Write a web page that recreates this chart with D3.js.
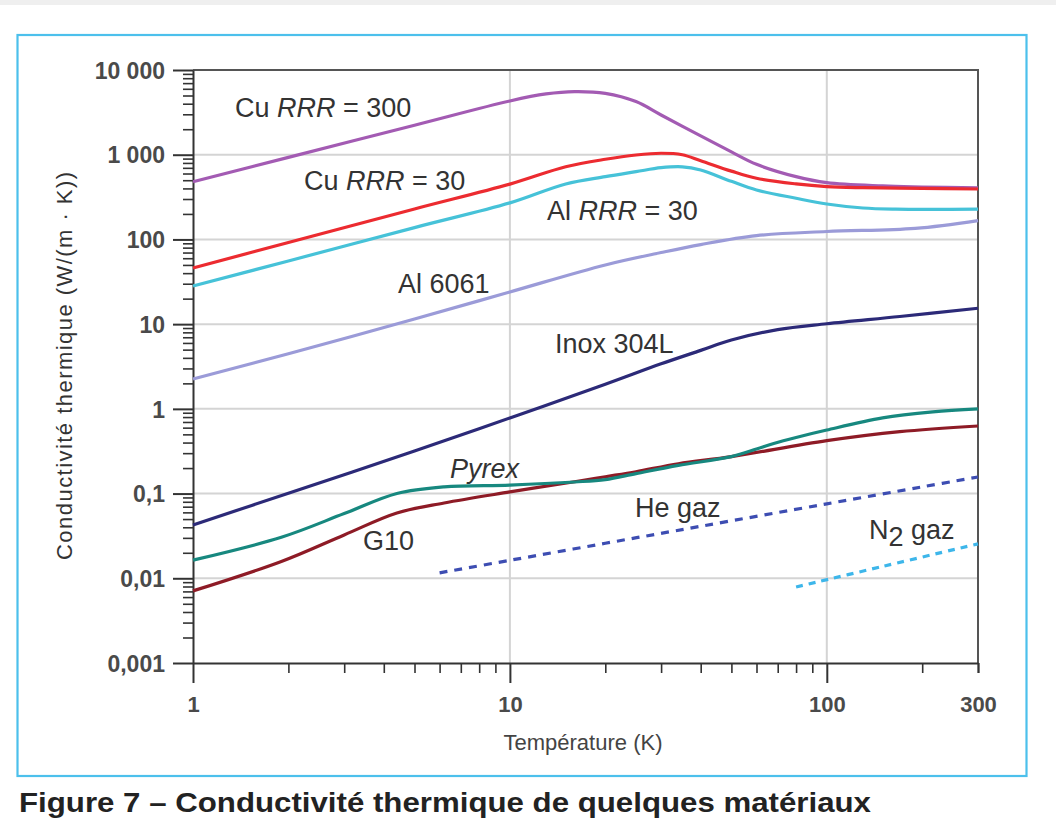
<!DOCTYPE html>
<html><head><meta charset="utf-8">
<script src="https://cdn.jsdelivr.net/npm/d3@7"></script>
<style>body{margin:0;background:#fff}svg{display:block}</style>
</head><body>
<svg id="c" width="1056" height="834"></svg>
<script>
// ---- data ----
const yTickValues = [0.001, 0.01, 0.1, 1, 10, 100, 1000, 10000];
const yTickLabels = ["0,001", "0,01", "0,1", "1", "10", "100", "1 000", "10 000"];
const xTickValues = [1, 10, 100, 300];
const xTickLabels = ["1", "10", "100", "300"];
const xMinorValues = [2,3,4,5,6,7,8,9,20,30,40,50,60,70,80,90,200,300];

const cu300T = [1, 2, 5, 10, 13, 16, 20, 25, 30, 40, 50, 60, 80, 100, 150, 200, 300];
const cu300K = [480, 931, 2230, 4310, 5215, 5560, 5300, 4235, 2945, 1665, 1080, 770, 551, 468, 428, 416, 405];

const cu30T = [1, 2, 5, 10, 15, 20, 25, 30, 35, 40, 50, 60, 80, 100, 130, 200, 300];
const cu30K = [46, 92, 229, 450, 720, 884, 993, 1040, 1000, 850, 640, 527, 452, 420, 408, 400, 394];

const al30T = [1, 2, 5, 10, 15, 20, 25, 30, 35, 40, 50, 60, 80, 100, 130, 165, 300];
const al30K = [28.2, 55.7, 138, 270, 452, 551, 631, 703, 720, 660, 485, 384, 306, 262, 235, 228, 228];

const al6061T = [1, 2, 5, 10, 20, 30, 40, 60, 100, 190, 300];
const al6061K = [2.25, 4.48, 11.5, 24, 50, 70, 87, 111, 124, 135, 167];

const inoxT = [1, 2, 5, 10, 20, 30, 40, 50, 70, 100, 170, 300];
const inoxK = [0.0426, 0.101, 0.318, 0.781, 1.95, 3.4, 4.9, 6.5, 8.6, 10.1, 12.3, 15.4];

const pyrexT = [1, 1.9, 3, 4.4, 6.2, 10, 16, 20, 25, 34, 50, 60, 68, 80, 100, 150, 216, 300];
const pyrexK = [0.0164, 0.0305, 0.058, 0.1, 0.120, 0.126, 0.137, 0.146, 0.172, 0.215, 0.273, 0.335, 0.39, 0.46, 0.563, 0.781, 0.919, 1.0];

const g10T = [1, 1.9, 3, 4.4, 6.2, 10, 16, 20, 25, 34, 50, 100, 170, 300];
const g10K = [0.0071, 0.0158, 0.0325, 0.059, 0.0775, 0.1045, 0.138, 0.158, 0.181, 0.225, 0.273, 0.421, 0.538, 0.628];

const heT = [6, 10, 20, 40, 100, 200, 300];
const heK = [0.0116, 0.0163, 0.0259, 0.0411, 0.0757, 0.120, 0.157];

const n2T = [80, 150, 300];
const n2K = [0.0079, 0.0138, 0.0255];

const series = [
  {T: n2T, K: n2K, color: "#3db6ea", dash: "7,6"},
  {T: heT, K: heK, color: "#3d4db2", dash: "8,7"},
  {T: g10T, K: g10K, color: "#8e1b26"},
  {T: pyrexT, K: pyrexK, color: "#17887f"},
  {T: inoxT, K: inoxK, color: "#2c2a78"},
  {T: al6061T, K: al6061K, color: "#9b9bd8"},
  {T: al30T, K: al30K, color: "#46c2d8"},
  {T: cu300T, K: cu300K, color: "#a35bb3"},
  {T: cu30T, K: cu30K, color: "#ec2b30"}
];

// ---- layout ----
const svg = d3.select("#c");
const x = d3.scaleLog().domain([1, 300]).range([193, 978]);
const y = d3.scaleLog().domain([0.001, 10000]).range([663, 70]);

svg.append("rect").attr("x", 0).attr("y", 0).attr("width", 1056).attr("height", 5).attr("fill", "#efefef");
svg.append("rect").attr("x", 17.5).attr("y", 35).attr("width", 1009).attr("height", 741)
  .attr("fill", "none").attr("stroke", "#4cc0ec").attr("stroke-width", 2.2);

// grid
const grid = svg.append("g").attr("stroke", "#d4d4d4").attr("stroke-width", 2);
grid.selectAll("line.h").data([0.01, 0.1, 1, 10, 100, 1000]).join("line")
  .attr("x1", x(1)).attr("x2", x(300)).attr("y1", d => y(d)).attr("y2", d => y(d));
grid.selectAll("line.v").data([10, 100]).join("line")
  .attr("x1", d => x(d)).attr("x2", d => x(d)).attr("y1", y(10000)).attr("y2", y(0.001));

// frame top/right
svg.append("path").attr("d", `M${x(1)},${y(10000)}H${x(300)}V${y(0.001)}`)
  .attr("fill", "none").attr("stroke", "#555").attr("stroke-width", 2);

// y minor ticks
const yMinor = [];
[0.001, 0.01, 0.1, 1, 10, 100, 1000].forEach(d => { for (let k = 2; k <= 9; k++) yMinor.push(d * k); });
const yMin = svg.append("g").attr("transform", `translate(${x(1)},0)`)
  .call(d3.axisLeft(y).tickValues(yMinor).tickSize(10).tickSizeOuter(0).tickFormat(""));
yMin.select(".domain").remove();
yMin.selectAll("line").attr("stroke", "#333").attr("stroke-width", 1.6);

const yMaj = svg.append("g").attr("transform", `translate(${x(1)},0)`)
  .call(d3.axisLeft(y).tickValues(yTickValues).tickSize(20).tickSizeOuter(0)
    .tickFormat((d, i) => yTickLabels[i]));
yMaj.select(".domain").attr("stroke", "#333").attr("stroke-width", 2);
yMaj.selectAll("line").attr("stroke", "#333").attr("stroke-width", 2);
yMaj.selectAll("text").attr("x", -28).attr("dy", "0.36em")
  .attr("font-family", "Liberation Sans, Arial, sans-serif").attr("font-size", 23)
  .attr("font-weight", "bold").attr("fill", "#4a4a4a");

// x ticks
const xMin = svg.append("g").attr("transform", `translate(0,${y(0.001)})`)
  .call(d3.axisBottom(x).tickValues(xMinorValues).tickSize(10).tickSizeOuter(0).tickFormat(""));
xMin.select(".domain").remove();
xMin.selectAll("line").attr("stroke", "#333").attr("stroke-width", 1.6);

const xMaj = svg.append("g").attr("transform", `translate(0,${y(0.001)})`)
  .call(d3.axisBottom(x).tickValues(xTickValues).tickSize(20).tickSizeOuter(0)
    .tickFormat((d, i) => xTickLabels[i]));
xMaj.select(".domain").attr("stroke", "#333").attr("stroke-width", 2);
xMaj.selectAll("line").attr("stroke", "#333").attr("stroke-width", 2)
  .filter(d => d === 300).attr("y2", 10);
xMaj.selectAll("text").attr("y", 33).attr("dy", "0.71em")
  .attr("font-family", "Liberation Sans, Arial, sans-serif").attr("font-size", 22)
  .attr("font-weight", "bold").attr("fill", "#4a4a4a");

// curves
const line = d3.line().x(d => x(d[0])).y(d => y(d[1])).curve(d3.curveCatmullRom.alpha(0.5));
svg.append("g").selectAll("path").data(series).join("path")
  .attr("d", s => line(s.T.map((t, i) => [t, s.K[i]])))
  .attr("fill", "none").attr("stroke", s => s.color).attr("stroke-width", 3.2)
  .attr("stroke-dasharray", s => s.dash || null)
  .attr("stroke-linejoin", "round");

// labels
const font = "Liberation Sans, Arial, sans-serif";
const lab = svg.append("g").attr("font-family", font).attr("font-size", 27).attr("fill", "#333");
function addLabel(xp, yp, parts) {
  const t = lab.append("text").attr("x", xp).attr("y", yp);
  parts.forEach(p => {
    const s = t.append("tspan").text(p.t);
    if (p.i) s.attr("font-style", "italic");
    if (p.dy) s.attr("dy", p.dy);
  });
}
addLabel(235, 117, [{t: "Cu "}, {t: "RRR", i: 1}, {t: " = 300"}]);
addLabel(304, 190, [{t: "Cu "}, {t: "RRR", i: 1}, {t: " = 30"}]);
addLabel(547, 220, [{t: "Al "}, {t: "RRR", i: 1}, {t: " = 30"}]);
addLabel(398, 293, [{t: "Al 6061"}]);
addLabel(555, 353, [{t: "Inox 304L"}]);
addLabel(450, 478, [{t: "Pyrex", i: 1}]);
addLabel(363, 550, [{t: "G10"}]);
addLabel(635, 517, [{t: "He gaz"}]);
addLabel(869, 539, [{t: "N"}, {t: "2", dy: 7}, {t: " gaz", dy: -7}]);

// axis titles
svg.append("text").attr("transform", "translate(72,366) rotate(-90)")
  .attr("text-anchor", "middle").attr("font-family", font).attr("font-size", 22)
  .attr("fill", "#333").attr("textLength", 388).attr("lengthAdjust", "spacing")
  .text("Conductivité thermique (W/(m · K))");
svg.append("text").attr("x", 583).attr("y", 750).attr("text-anchor", "middle")
  .attr("font-family", font).attr("font-size", 22).attr("fill", "#444")
  .text("Température (K)");

// caption
svg.append("text").attr("x", 19).attr("y", 812).attr("font-family", font)
  .attr("font-size", 27).attr("font-weight", "bold").attr("fill", "#222")
  .attr("textLength", 852).attr("lengthAdjust", "spacingAndGlyphs")
  .text("Figure 7 – Conductivité thermique de quelques matériaux");
</script>
</body></html>
